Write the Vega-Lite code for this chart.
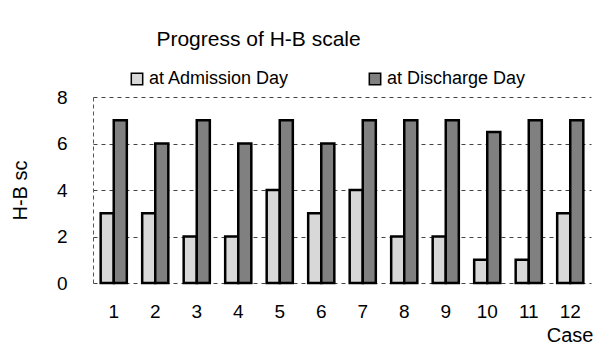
{
  "$schema": "https://vega.github.io/schema/vega-lite/v6.json",
  "width": 498,
  "height": 186,
  "autosize": "none",
  "padding": {"left": 93, "top": 97, "right": 17, "bottom": 62},
  "background": "white",
  "title": {
    "text": "Progress of H-B scale",
    "anchor": "start",
    "dx": 146,
    "offset": 20,
    "font": "Liberation Sans",
    "fontSize": 21,
    "fontWeight": "normal",
    "color": "black"
  },
  "data": {
    "values": [
      {"case": "1", "series": "at Admission Day", "score": 3},
      {"case": "2", "series": "at Admission Day", "score": 3},
      {"case": "3", "series": "at Admission Day", "score": 2},
      {"case": "4", "series": "at Admission Day", "score": 2},
      {"case": "5", "series": "at Admission Day", "score": 4},
      {"case": "6", "series": "at Admission Day", "score": 3},
      {"case": "7", "series": "at Admission Day", "score": 4},
      {"case": "8", "series": "at Admission Day", "score": 2},
      {"case": "9", "series": "at Admission Day", "score": 2},
      {"case": "10", "series": "at Admission Day", "score": 1},
      {"case": "11", "series": "at Admission Day", "score": 1},
      {"case": "12", "series": "at Admission Day", "score": 3},
      {"case": "1", "series": "at Discharge Day", "score": 7},
      {"case": "2", "series": "at Discharge Day", "score": 6},
      {"case": "3", "series": "at Discharge Day", "score": 7},
      {"case": "4", "series": "at Discharge Day", "score": 6},
      {"case": "5", "series": "at Discharge Day", "score": 7},
      {"case": "6", "series": "at Discharge Day", "score": 6},
      {"case": "7", "series": "at Discharge Day", "score": 7},
      {"case": "8", "series": "at Discharge Day", "score": 7},
      {"case": "9", "series": "at Discharge Day", "score": 7},
      {"case": "10", "series": "at Discharge Day", "score": 6.5},
      {"case": "11", "series": "at Discharge Day", "score": 7},
      {"case": "12", "series": "at Discharge Day", "score": 7}
    ]
  },
  "mark": {"type": "bar", "stroke": "black", "strokeWidth": 2.5},
  "encoding": {
    "x": {
      "field": "case",
      "type": "ordinal",
      "sort": null,
      "scale": {"paddingInner": 0.37, "paddingOuter": 0.185},
      "axis": {
        "title": "Case",
        "titleAnchor": "end",
        "titleAlign": "right",
        "titleX": 500,
        "titleY": 42,
        "titleFont": "Liberation Sans",
        "titleFontSize": 20,
        "titleFontWeight": "normal",
        "titleColor": "black",
        "labelAngle": 0,
        "labelFont": "Liberation Sans",
        "labelFontSize": 19,
        "labelColor": "black",
        "labelPadding": 19,
        "ticks": false,
        "domain": false
      }
    },
    "xOffset": {"field": "series", "type": "nominal"},
    "y": {
      "field": "score",
      "type": "quantitative",
      "scale": {"domain": [0, 8]},
      "axis": {
        "title": "H-B sc",
        "titleFont": "Liberation Sans",
        "titleFontSize": 20,
        "titleFontWeight": "normal",
        "titleColor": "black",
        "titlePadding": 26,
        "values": [0, 2, 4, 6, 8],
        "labelFont": "Liberation Sans",
        "labelFontSize": 19,
        "labelColor": "black",
        "labelPadding": 26,
        "ticks": false,
        "domain": true,
        "domainColor": "#555",
        "domainDash": [4, 3],
        "grid": true,
        "gridColor": "#444",
        "gridDash": [4, 4],
        "gridWidth": 1
      }
    },
    "fill": {
      "field": "series",
      "type": "nominal",
      "scale": {"range": ["#d8d8d8", "#808080"]},
      "legend": {
        "title": null,
        "orient": "none",
        "direction": "horizontal",
        "legendX": 35,
        "legendY": -27,
        "symbolType": "square",
        "symbolSize": 130,
        "symbolStrokeColor": "black",
        "symbolStrokeWidth": 1.5,
        "labelFont": "Liberation Sans",
        "labelFontSize": 18,
        "labelColor": "black",
        "labelOffset": 3,
        "columnPadding": 76
      }
    }
  },
  "config": {"view": {"stroke": null}}
}
